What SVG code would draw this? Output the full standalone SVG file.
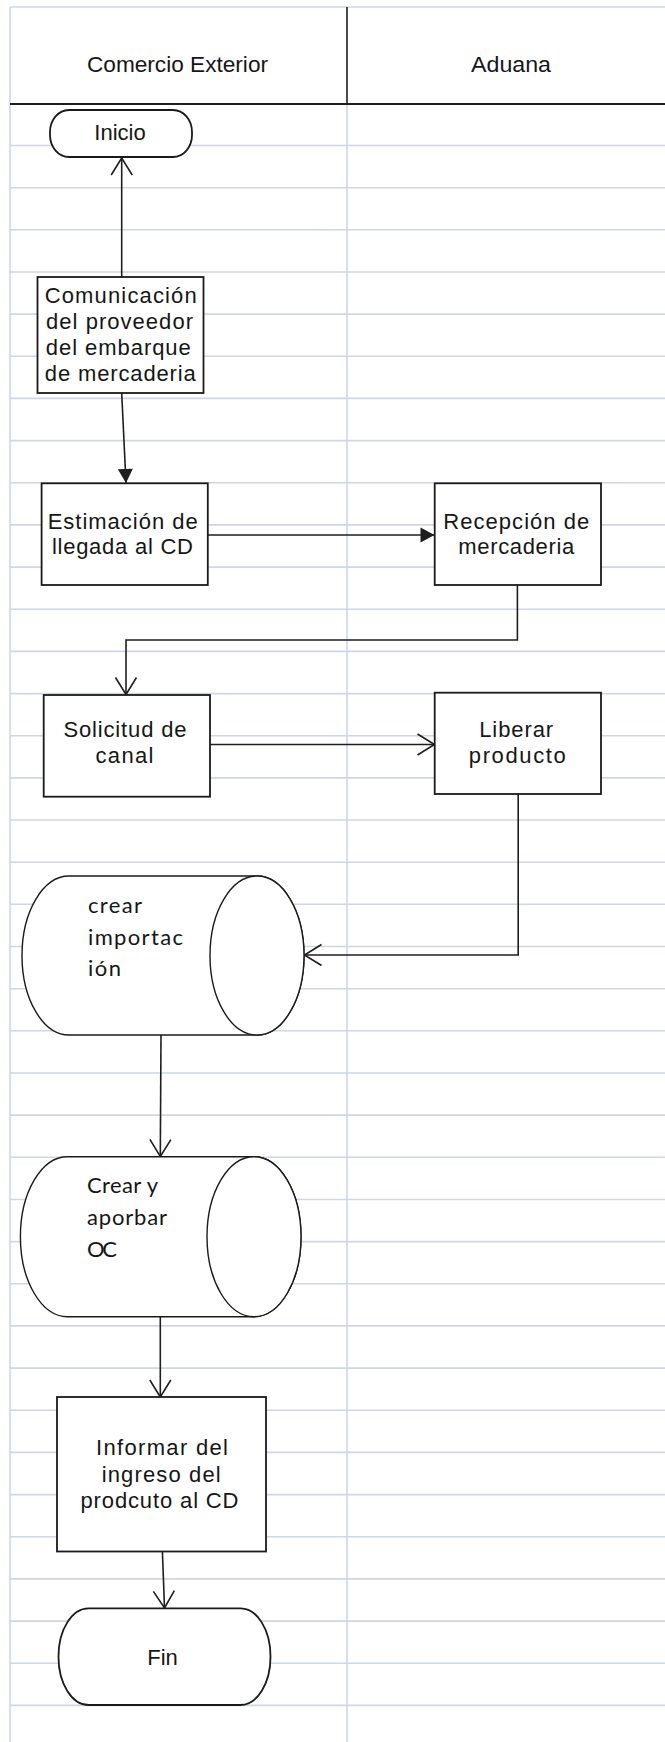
<svg xmlns="http://www.w3.org/2000/svg" width="665" height="1742" viewBox="0 0 665 1742">
  <style>
    .grid { stroke: #cfd6e7; stroke-width: 1.6; fill: none; }
    .rule { stroke: #1e1e1e; fill: none; }
    .shape { fill: #ffffff; stroke: #1a1a1a; stroke-width: 1.8; }
    .cyl { fill: #ffffff; stroke: #1a1a1a; stroke-width: 1.4; }
    .conn { fill: none; stroke: #1e1e1e; stroke-width: 1.6; }
    .lbl { font-family: "Liberation Sans", Arial, sans-serif; font-size: 22px; fill: #161616; text-anchor: middle; }
    .lblc { font-family: Lato, "Open Sans", sans-serif; font-size: 22px; fill: #161616; }
  </style>
  <defs>
    <marker id="openArrow" markerUnits="userSpaceOnUse" markerWidth="24" markerHeight="26" refX="17" refY="11" orient="auto" overflow="visible">
      <path d="M0,0.5 L17,11 L0,21.5" fill="none" stroke="#1e1e1e" stroke-width="1.6"/>
    </marker>
    <marker id="solidArrow" markerUnits="userSpaceOnUse" markerWidth="16" markerHeight="16" refX="14" refY="7.5" orient="auto" overflow="visible">
      <path d="M0,0 L14,7.5 L0,15 Z" fill="#1e1e1e"/>
    </marker>
  </defs>

  <!-- page background -->
  <rect x="0" y="0" width="665" height="1742" fill="#ffffff"/>

  <!-- swimlane grid -->
  <g id="lanes">
    <path class="grid" d="M10,7 H665 M10,7 V1742 M347,104 V1742"/>
    <path class="grid" d="M10,145.5 H665 M10,187.7 H665 M10,229.8 H665 M10,272 H665 M10,314.1 H665 M10,356.3 H665 M10,398.4 H665 M10,440.6 H665 M10,482.8 H665 M10,524.9 H665 M10,567.1 H665 M10,609.2 H665 M10,651.4 H665 M10,693.6 H665 M10,735.7 H665 M10,777.9 H665 M10,820 H665 M10,862.2 H665 M10,904.3 H665 M10,946.5 H665 M10,988.7 H665 M10,1030.8 H665 M10,1073 H665 M10,1115.1 H665 M10,1157.3 H665 M10,1199.5 H665 M10,1241.6 H665 M10,1283.8 H665 M10,1325.9 H665 M10,1368.1 H665 M10,1410.3 H665 M10,1452.4 H665 M10,1494.6 H665 M10,1536.7 H665 M10,1578.9 H665 M10,1621.1 H665 M10,1663.2 H665 M10,1705.4 H665"/>
    <line class="rule" x1="347" y1="7" x2="347" y2="104" stroke-width="1.6"/>
    <line class="rule" x1="10" y1="104" x2="665" y2="104" stroke-width="2.2"/>
    <text class="lbl" x="177.5" y="72" textLength="181" lengthAdjust="spacingAndGlyphs">Comercio Exterior</text>
    <text class="lbl" x="511" y="72" textLength="80" lengthAdjust="spacingAndGlyphs">Aduana</text>
  </g>

  <!-- connectors -->
  <g id="connectors">
    <path class="conn" d="M121.7,277 L121.7,158" marker-end="url(#openArrow)"/>
    <path class="conn" d="M121.7,393 L126,483" marker-end="url(#solidArrow)"/>
    <path class="conn" d="M208,535 L434.5,535" marker-end="url(#solidArrow)"/>
    <path class="conn" d="M517.4,585 L517.4,640 L126,640 L126,694.5" marker-end="url(#openArrow)"/>
    <path class="conn" d="M210,744.5 L434.5,744.5" marker-end="url(#openArrow)"/>
    <path class="conn" d="M518.2,794 L518.2,955 L304.5,955" marker-end="url(#openArrow)"/>
    <path class="conn" d="M161,1035 L160.3,1156.5" marker-end="url(#openArrow)"/>
    <path class="conn" d="M160.3,1316.7 L160.3,1397" marker-end="url(#openArrow)"/>
    <path class="conn" d="M162.4,1551.5 L164.5,1608" marker-end="url(#openArrow)"/>
  </g>

  <!-- start terminator -->
  <g id="inicio">
    <rect class="shape" x="50" y="110" width="142" height="47" rx="19" ry="22"/>
    <text class="lbl" x="120" y="140">Inicio</text>
  </g>

  <g id="comunicacion">
    <rect class="shape" x="37.5" y="277" width="166" height="116"/>
    <text class="lbl" x="120.7" y="303" textLength="152">Comunicación</text>
    <text class="lbl" x="119.5" y="329" textLength="147">del proveedor</text>
    <text class="lbl" x="118.3" y="355" textLength="145">del embarque</text>
    <text class="lbl" x="120.3" y="381" textLength="151">de mercaderia</text>
  </g>

  <g id="estimacion">
    <rect class="shape" x="41.6" y="483.3" width="166.2" height="101.7"/>
    <text class="lbl" x="122.7" y="529" textLength="150">Estimación de</text>
    <text class="lbl" x="122.4" y="554" textLength="141">llegada al CD</text>
  </g>

  <g id="recepcion">
    <rect class="shape" x="434.7" y="483.3" width="166.3" height="101.7"/>
    <text class="lbl" x="516.3" y="529" textLength="146">Recepción de</text>
    <text class="lbl" x="516.3" y="554" textLength="116">mercaderia</text>
  </g>

  <g id="solicitud">
    <rect class="shape" x="43.7" y="695" width="166.3" height="101.7"/>
    <text class="lbl" x="125" y="737" textLength="123">Solicitud de</text>
    <text class="lbl" x="124.5" y="763" textLength="58">canal</text>
  </g>

  <g id="liberar">
    <rect class="shape" x="434.7" y="692.7" width="166.3" height="101.3"/>
    <text class="lbl" x="516.2" y="737" textLength="74">Liberar</text>
    <text class="lbl" x="517.3" y="763" textLength="97">producto</text>
  </g>

  <!-- stored-data cylinders -->
  <g id="crear-importacion">
    <path class="cyl" d="M69,876 L257,876 A47,79.5 0 0 1 257,1035 L69,1035 A47,79.5 0 0 1 69,876 Z"/>
    <ellipse class="cyl" cx="257" cy="955.5" rx="47" ry="79.5"/>
    <text class="lblc" x="88" y="913" textLength="54">crear</text>
    <text class="lblc" x="88" y="945" textLength="95">importac</text>
    <text class="lblc" x="88" y="976" textLength="33">ión</text>
  </g>

  <g id="crear-aprobar-oc">
    <path class="cyl" d="M67.4,1156.7 L254,1156.7 A47,80 0 0 1 254,1316.7 L67.4,1316.7 A47,80 0 0 1 67.4,1156.7 Z"/>
    <ellipse class="cyl" cx="254" cy="1236.7" rx="47" ry="80"/>
    <text class="lblc" x="87" y="1193" textLength="71">Crear y</text>
    <text class="lblc" x="87" y="1225" textLength="80">aporbar</text>
    <text class="lblc" x="87" y="1257" textLength="30">OC</text>
  </g>

  <g id="informar">
    <rect class="shape" x="57" y="1397" width="209" height="154.5"/>
    <text class="lbl" x="162" y="1455" textLength="132">Informar del</text>
    <text class="lbl" x="161.2" y="1481.5" textLength="119">ingreso del</text>
    <text class="lbl" x="159.5" y="1508" textLength="158">prodcuto al CD</text>
  </g>

  <!-- end terminator -->
  <g id="fin">
    <rect class="shape" x="58.5" y="1608.3" width="212" height="96.7" rx="30" ry="48"/>
    <text class="lbl" x="162.5" y="1664.5">Fin</text>
  </g>
</svg>
